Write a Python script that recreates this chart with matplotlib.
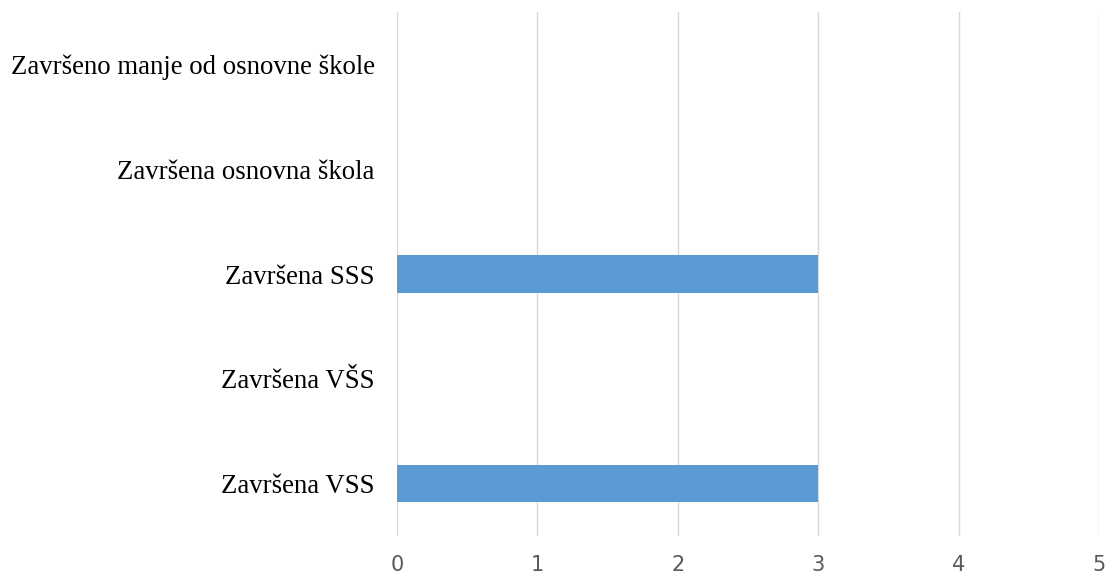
import matplotlib.pyplot as plt

categories = ["Završena VSS", "Završena VŠS", "Završena SSS",
              "Završena osnovna škola", "Završeno manje od osnovne škole"]
values = [3, 0, 3, 0, 0]
xticks = [0, 1, 2, 3, 4, 5]

fig = plt.figure(figsize=(11.08, 5.76), dpi=100)
ax = fig.add_axes([0.3583, 0.0694, 0.992 - 0.3583, 0.979 - 0.0694])

ax.barh(categories, values, height=0.355, color="#5B9BD5", zorder=3)
ax.set_xlim(0, 5)
ax.set_ylim(-0.5, len(categories) - 0.5)
ax.set_xticks(xticks)
ax.grid(axis="x", color="#D9D9D9", linewidth=1, zorder=0)

for s in ax.spines.values():
    s.set_visible(False)
ax.tick_params(axis="both", length=0)
ax.tick_params(axis="x", labelsize=15, labelcolor="#595959", pad=14)
ax.tick_params(axis="y", pad=16)
for lbl in ax.get_yticklabels():
    lbl.set_fontfamily("Liberation Serif")
    lbl.set_fontsize(19.3)
    lbl.set_color("black")

fig.savefig("out.png")
